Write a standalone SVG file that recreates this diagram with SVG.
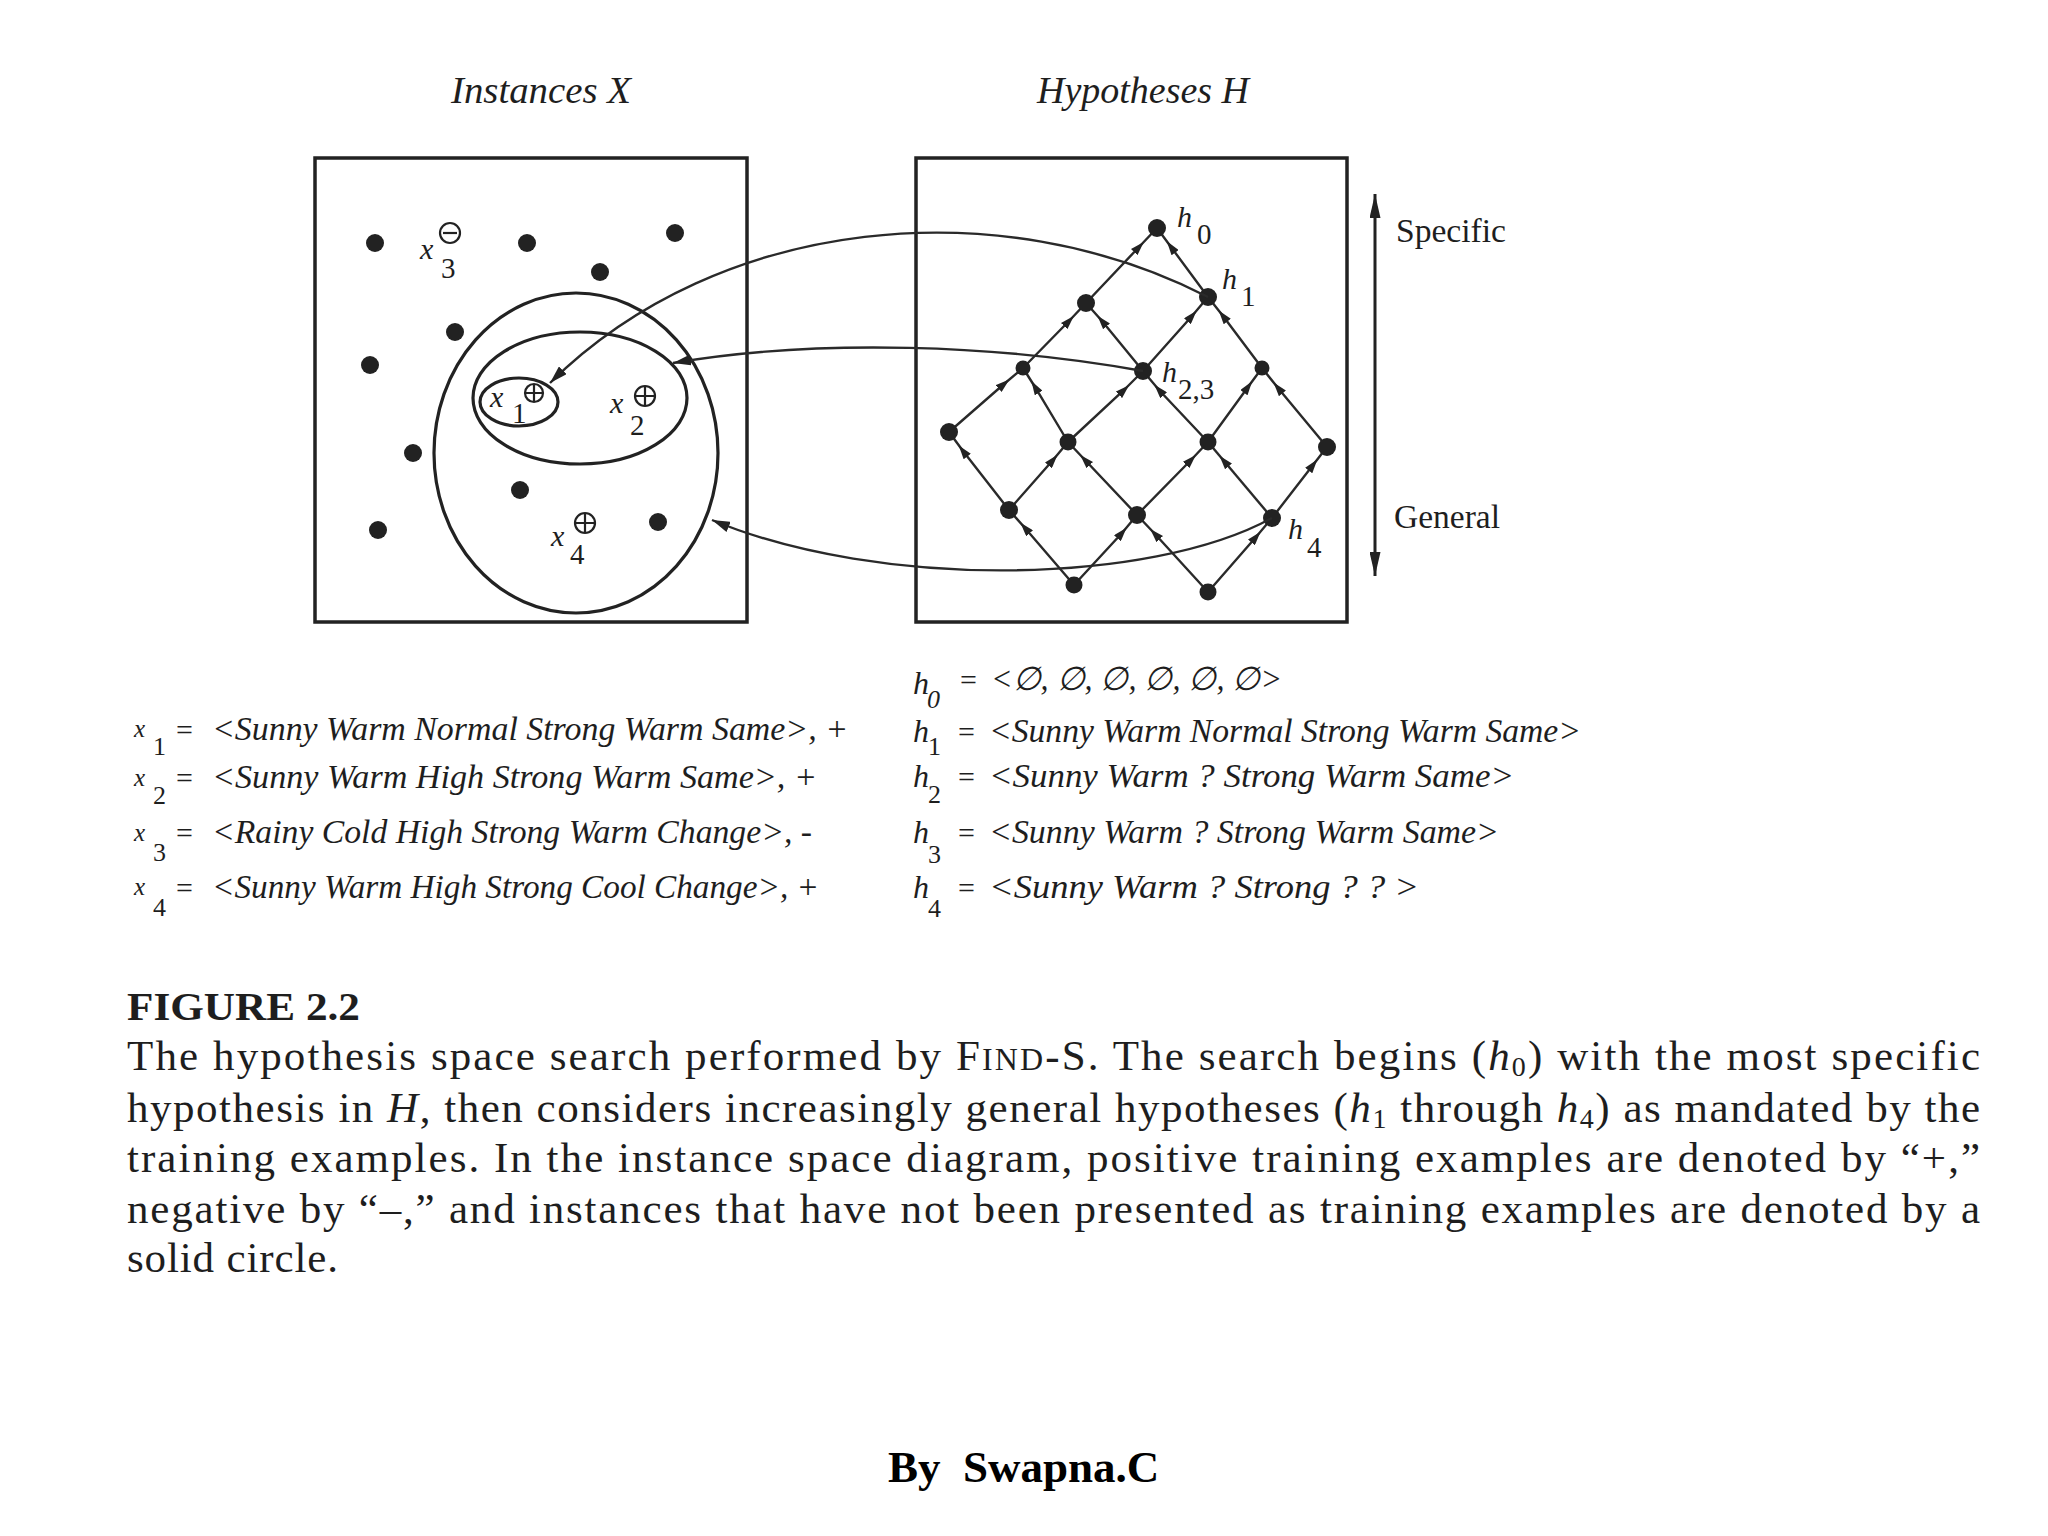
<svg xmlns="http://www.w3.org/2000/svg" width="2048" height="1536" viewBox="0 0 2048 1536">
<style>
.bg{fill:#ffffff}
.box{fill:none;stroke:#222;stroke-width:3.5}
.ell{fill:none;stroke:#222;stroke-width:3.2}
.dot{fill:#222}
.sym{fill:none;stroke:#222;stroke-width:2.2}
.conn{fill:none;stroke:#2a2a2a;stroke-width:2.4}
.edge{fill:none;stroke:#2a2a2a;stroke-width:2.4}
.serif{font-family:"Liberation Serif","Times New Roman",serif;fill:#1e1e1e}
.it{font-style:italic}
.title{font-size:38px}
.lab{font-size:30px}
.sub{font-size:29px}
.list{font-size:33px}
.cap{font-size:43px}
</style>
<defs>
<marker id="ah" viewBox="0 0 10 10" refX="10" refY="5" markerWidth="18" markerHeight="11" markerUnits="userSpaceOnUse" orient="auto" preserveAspectRatio="none"><path d="M0,0 L10,5 L0,10 z" fill="#222"/></marker>
<marker id="lm" viewBox="0 0 10 10" refX="5" refY="5" markerWidth="14" markerHeight="9" markerUnits="userSpaceOnUse" orient="auto" preserveAspectRatio="none"><path d="M0,0 L10,5 L0,10 z" fill="#222"/></marker>
<marker id="va" viewBox="0 0 10 10" refX="10" refY="5" markerWidth="24" markerHeight="11" markerUnits="userSpaceOnUse" orient="auto" preserveAspectRatio="none"><path d="M0,0 L10,5 L0,10 z" fill="#222"/></marker>
<marker id="vs" viewBox="0 0 10 10" refX="0" refY="5" markerWidth="24" markerHeight="11" markerUnits="userSpaceOnUse" orient="auto" preserveAspectRatio="none"><path d="M10,0 L0,5 L10,10 z" fill="#222"/></marker>
</defs>
<rect class="bg" x="0" y="0" width="2048" height="1536"/>

<g id="titles">
<text class="serif it title" x="451" y="103" textLength="180" lengthAdjust="spacingAndGlyphs">Instances X</text>
<text class="serif it title" x="1037" y="103" textLength="212" lengthAdjust="spacingAndGlyphs">Hypotheses H</text>
</g>

<g id="instances">
<rect class="box" x="315" y="158" width="432" height="464"/>
<ellipse class="ell" cx="576" cy="453" rx="142" ry="160"/>
<ellipse class="ell" cx="580" cy="398" rx="107" ry="66"/>
<ellipse class="ell" cx="519" cy="402" rx="39" ry="24"/>
<g id="unseen">
<circle class="dot" cx="375" cy="243" r="9"/>
<circle class="dot" cx="527" cy="243" r="9"/>
<circle class="dot" cx="675" cy="233" r="9"/>
<circle class="dot" cx="600" cy="272" r="9"/>
<circle class="dot" cx="455" cy="332" r="9"/>
<circle class="dot" cx="370" cy="365" r="9"/>
<circle class="dot" cx="413" cy="453" r="9"/>
<circle class="dot" cx="520" cy="490" r="9"/>
<circle class="dot" cx="378" cy="530" r="9"/>
<circle class="dot" cx="658" cy="522" r="9"/>
</g>
<g id="x1">
<circle class="sym" cx="534" cy="393" r="9"/>
<path class="sym" d="M525,393 H543 M534,384 V402"/>
<text class="serif it lab" x="490" y="407">x</text>
<text class="serif sub" x="512" y="423">1</text>
</g>
<g id="x2">
<circle class="sym" cx="645" cy="396" r="10"/>
<path class="sym" d="M635,396 H655 M645,386 V406"/>
<text class="serif it lab" x="610" y="413">x</text>
<text class="serif sub" x="630" y="435">2</text>
</g>
<g id="x3">
<circle class="sym" cx="450" cy="233" r="10"/>
<path class="sym" d="M443,233 H457"/>
<text class="serif it lab" x="420" y="259">x</text>
<text class="serif sub" x="441" y="278">3</text>
</g>
<g id="x4">
<circle class="sym" cx="585" cy="523" r="10"/>
<path class="sym" d="M575,523 H595 M585,513 V533"/>
<text class="serif it lab" x="551" y="546">x</text>
<text class="serif sub" x="570" y="564">4</text>
</g>
</g>

<g id="hypotheses">
<rect class="box" x="916" y="158" width="431" height="464"/>
<g id="lattice-edges">
<path class="edge" marker-mid="url(#lm)" d="M1086,303 L1139,247 L1157,228"/>
<path class="edge" marker-mid="url(#lm)" d="M1208,297 L1171,247 L1157,228"/>
<path class="edge" marker-mid="url(#lm)" d="M1023,368 L1069,321 L1086,303"/>
<path class="edge" marker-mid="url(#lm)" d="M1143,371 L1102,321 L1086,303"/>
<path class="edge" marker-mid="url(#lm)" d="M1143,371 L1192,316 L1208,297"/>
<path class="edge" marker-mid="url(#lm)" d="M1262,368 L1223,316 L1208,297"/>
<path class="edge" marker-mid="url(#lm)" d="M949,432 L1004,384 L1023,368"/>
<path class="edge" marker-mid="url(#lm)" d="M1068,442 L1035,387 L1023,368"/>
<path class="edge" marker-mid="url(#lm)" d="M1068,442 L1124,390 L1143,371"/>
<path class="edge" marker-mid="url(#lm)" d="M1208,442 L1159,390 L1143,371"/>
<path class="edge" marker-mid="url(#lm)" d="M1208,442 L1248,387 L1262,368"/>
<path class="edge" marker-mid="url(#lm)" d="M1327,447 L1278,388 L1262,368"/>
<path class="edge" marker-mid="url(#lm)" d="M1009,510 L963,451 L949,432"/>
<path class="edge" marker-mid="url(#lm)" d="M1009,510 L1053,460 L1068,442"/>
<path class="edge" marker-mid="url(#lm)" d="M1137,515 L1085,460 L1068,442"/>
<path class="edge" marker-mid="url(#lm)" d="M1137,515 L1191,460 L1208,442"/>
<path class="edge" marker-mid="url(#lm)" d="M1272,518 L1224,461 L1208,442"/>
<path class="edge" marker-mid="url(#lm)" d="M1272,518 L1313,465 L1327,447"/>
<path class="edge" marker-mid="url(#lm)" d="M1074,585 L1025,528 L1009,510"/>
<path class="edge" marker-mid="url(#lm)" d="M1074,585 L1122,533 L1137,515"/>
<path class="edge" marker-mid="url(#lm)" d="M1208,592 L1155,534 L1137,515"/>
<path class="edge" marker-mid="url(#lm)" d="M1208,592 L1256,537 L1272,518"/>
</g>
<g id="h0"><circle class="dot" cx="1157" cy="228" r="9"/><text class="serif it lab" x="1177" y="227">h</text><text class="serif sub" x="1197" y="244">0</text></g>
<g id="n10"><circle class="dot" cx="1086" cy="303" r="9"/></g>
<g id="h1"><circle class="dot" cx="1208" cy="297" r="9"/><text class="serif it lab" x="1222" y="289">h</text><text class="serif sub" x="1241" y="306">1</text></g>
<g id="n20"><circle class="dot" cx="1023" cy="368" r="7.5"/></g>
<g id="h23"><circle class="dot" cx="1143" cy="371" r="9"/><text class="serif it lab" x="1162" y="382">h</text><text class="serif sub" x="1178" y="399">2,3</text></g>
<g id="n02"><circle class="dot" cx="1262" cy="368" r="7.5"/></g>
<g id="n30"><circle class="dot" cx="949" cy="432" r="9"/></g>
<g id="n21"><circle class="dot" cx="1068" cy="442" r="8.5"/></g>
<g id="n12"><circle class="dot" cx="1208" cy="442" r="8.5"/></g>
<g id="n03"><circle class="dot" cx="1327" cy="447" r="9"/></g>
<g id="n31"><circle class="dot" cx="1009" cy="510" r="9"/></g>
<g id="n22"><circle class="dot" cx="1137" cy="515" r="9"/></g>
<g id="h4"><circle class="dot" cx="1272" cy="518" r="9"/><text class="serif it lab" x="1288" y="539">h</text><text class="serif sub" x="1307" y="557">4</text></g>
<g id="n32"><circle class="dot" cx="1074" cy="585" r="8.5"/></g>
<g id="n23"><circle class="dot" cx="1208" cy="592" r="8.5"/></g>
</g>

<g id="connectors">
<path class="conn" marker-end="url(#ah)" d="M1208,297 C1000,190 720,215 550,383"/>
<path class="conn" marker-end="url(#ah)" d="M1143,371 C1000,345 820,338 673,363"/>
<path class="conn" marker-end="url(#ah)" d="M1272,518 C1150,585 880,590 712,520"/>
</g>

<g id="scale">
<line x1="1375" y1="194" x2="1375" y2="576" stroke="#222" stroke-width="3" marker-start="url(#vs)" marker-end="url(#va)"/>
<text class="serif" x="1396" y="242" font-size="33" textLength="110" lengthAdjust="spacingAndGlyphs">Specific</text>
<text class="serif" x="1394" y="528" font-size="33" textLength="106" lengthAdjust="spacingAndGlyphs">General</text>
</g>

<g id="instance-list">
<text class="serif it" x="134" y="737" font-size="25">x</text><text class="serif" x="153" y="755" font-size="26">1</text><text class="serif" x="176" y="740" font-size="30">=</text>
<text class="serif it list" x="212" y="740" textLength="636" lengthAdjust="spacingAndGlyphs">&lt;Sunny Warm Normal Strong Warm Same&gt;, +</text>
<text class="serif it" x="134" y="786" font-size="25">x</text><text class="serif" x="153" y="804" font-size="26">2</text><text class="serif" x="176" y="788" font-size="30">=</text>
<text class="serif it list" x="212" y="788" textLength="605" lengthAdjust="spacingAndGlyphs">&lt;Sunny Warm High  Strong Warm Same&gt;, +</text>
<text class="serif it" x="134" y="841" font-size="25">x</text><text class="serif" x="153" y="861" font-size="26">3</text><text class="serif" x="176" y="843" font-size="30">=</text>
<text class="serif it list" x="212" y="843" textLength="600" lengthAdjust="spacingAndGlyphs">&lt;Rainy Cold High Strong Warm Change&gt;, -</text>
<text class="serif it" x="134" y="895" font-size="25">x</text><text class="serif" x="153" y="916" font-size="26">4</text><text class="serif" x="176" y="898" font-size="30">=</text>
<text class="serif it list" x="212" y="898" textLength="607" lengthAdjust="spacingAndGlyphs">&lt;Sunny Warm High Strong Cool Change&gt;, +</text>
</g>

<g id="hypothesis-list">
<text class="serif it" x="913" y="694" font-size="32">h</text><text class="serif it" x="927" y="708" font-size="26">0</text><text class="serif" x="960" y="690" font-size="30">=</text>
<text class="serif it list" x="991" y="690" textLength="291" lengthAdjust="spacingAndGlyphs">&lt;∅, ∅, ∅, ∅, ∅, ∅&gt;</text>
<text class="serif it" x="913" y="742" font-size="32">h</text><text class="serif" x="928" y="755" font-size="26">1</text><text class="serif" x="958" y="742" font-size="30">=</text>
<text class="serif it list" x="989" y="742" textLength="592" lengthAdjust="spacingAndGlyphs">&lt;Sunny Warm Normal Strong Warm Same&gt;</text>
<text class="serif it" x="913" y="787" font-size="32">h</text><text class="serif" x="928" y="803" font-size="26">2</text><text class="serif" x="958" y="787" font-size="30">=</text>
<text class="serif it list" x="989" y="787" textLength="525" lengthAdjust="spacingAndGlyphs">&lt;Sunny Warm  ?  Strong Warm Same&gt;</text>
<text class="serif it" x="913" y="843" font-size="32">h</text><text class="serif" x="928" y="863" font-size="26">3</text><text class="serif" x="958" y="843" font-size="30">=</text>
<text class="serif it list" x="989" y="843" textLength="510" lengthAdjust="spacingAndGlyphs">&lt;Sunny Warm ? Strong Warm Same&gt;</text>
<text class="serif it" x="913" y="898" font-size="32">h</text><text class="serif" x="928" y="917" font-size="26">4</text><text class="serif" x="958" y="898" font-size="30">=</text>
<text class="serif it list" x="989" y="898" textLength="430" lengthAdjust="spacingAndGlyphs">&lt;Sunny Warm  ?  Strong  ?  ? &gt;</text>
</g>

<g id="caption">
<text class="serif" x="127" y="1020" font-size="40" font-weight="bold" textLength="233" lengthAdjust="spacingAndGlyphs">FIGURE 2.2</text>
<text class="serif cap" x="127" y="1070" textLength="1853">The hypothesis space search performed by F<tspan font-size="32">IND</tspan>-S. The search begins (<tspan class="it">h</tspan><tspan font-size="28" dy="6">0</tspan><tspan dy="-6">) with the most specific</tspan></text>
<text class="serif cap" x="127" y="1122" textLength="1853">hypothesis in <tspan class="it">H</tspan>, then considers increasingly general hypotheses (<tspan class="it">h</tspan><tspan font-size="28" dy="6">1</tspan><tspan dy="-6"> through </tspan><tspan class="it">h</tspan><tspan font-size="28" dy="6">4</tspan><tspan dy="-6">) as mandated by the</tspan></text>
<text class="serif cap" x="127" y="1172" textLength="1853">training examples. In the instance space diagram, positive training examples are denoted by “+,”</text>
<text class="serif cap" x="127" y="1223" textLength="1853">negative by “–,” and instances that have not been presented as training examples are denoted by a</text>
<text class="serif cap" x="127" y="1272" textLength="211">solid circle.</text>
</g>

<g id="credit">
<text x="888" y="1482" font-family="Liberation Serif, serif" font-weight="bold" font-size="45" fill="#000">By</text>
<text x="963" y="1482" font-family="Liberation Serif, serif" font-weight="bold" font-size="45" fill="#000">Swapna.C</text>
</g>
</svg>
